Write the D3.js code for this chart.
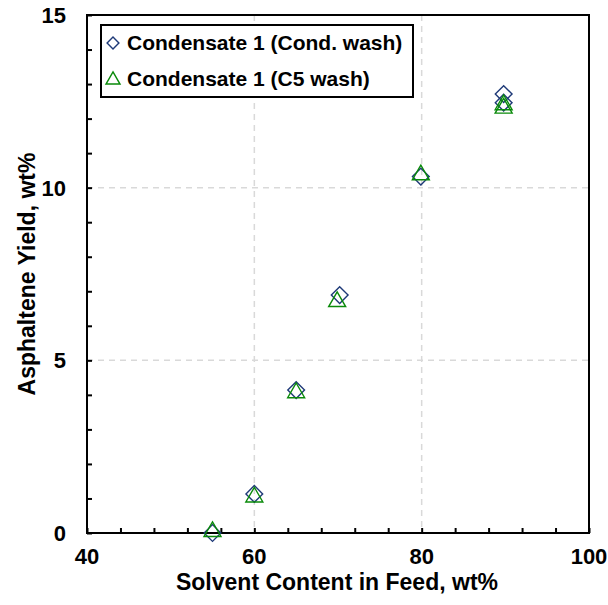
<!DOCTYPE html>
<html>
<head>
<meta charset="utf-8">
<script src="https://cdn.jsdelivr.net/npm/d3@7/dist/d3.min.js"></script>
<style>
  html, body { margin: 0; padding: 0; background: #fff; }
  svg { display: block; font-family: "Liberation Sans", Arial, sans-serif; font-weight: bold; }
</style>
</head>
<body>
<svg id="chart" width="608" height="605"></svg>
<script>
// Solvent content (wt%) and asphaltene yield (wt%) for each wash
const condWashX = [55, 60, 65, 70.2, 79.9, 89.8, 89.8];
const condWashY = [0.0, 1.13, 4.14, 6.89, 10.32, 12.71, 12.46];
const c5WashX = [55, 60, 65, 69.9, 79.9, 89.8, 89.8];
const c5WashY = [0.04, 1.04, 4.06, 6.70, 10.37, 12.40, 12.30];

const seriesNames = ["Condensate 1 (Cond. wash)", "Condensate 1 (C5 wash)"];
const xTickValues = [40, 60, 80, 100];
const yTickValues = [0, 5, 10, 15];
const xMinorTicks = d3.range(40, 100.01, 4);
const yMinorTicks = d3.range(0, 15.01, 1);

const svg = d3.select("#chart");
const m = { left: 87, right: 589, top: 15, bottom: 533 };

const x = d3.scaleLinear().domain([40, 100]).range([m.left, m.right]);
const y = d3.scaleLinear().domain([0, 15]).range([m.bottom, m.top]);

// dashed gridlines at the major ticks
const grid = svg.append("g");
grid.selectAll("line.gx").data([60, 80]).join("line")
  .attr("x1", d => x(d)).attr("x2", d => x(d))
  .attr("y1", m.top).attr("y2", m.bottom)
  .attr("stroke", "#d9d9d9").attr("stroke-width", 1.5).attr("stroke-dasharray", "6,5");
grid.selectAll("line.gy").data([5, 10]).join("line")
  .attr("x1", m.left).attr("x2", m.right)
  .attr("y1", d => y(d)).attr("y2", d => y(d))
  .attr("stroke", "#d9d9d9").attr("stroke-width", 1.5).attr("stroke-dasharray", "6,5");

// inward tick marks
const xAxis = d3.axisBottom(x).tickValues(xMinorTicks).tickSize(-5).tickFormat("");
svg.append("g").attr("transform", `translate(0,${m.bottom})`).call(xAxis)
  .call(g => g.select(".domain").remove())
  .selectAll("line").attr("stroke", "#000").attr("stroke-width", 2);
const yAxis = d3.axisLeft(y).tickValues(yMinorTicks).tickSize(-5).tickFormat("");
svg.append("g").attr("transform", `translate(${m.left},0)`).call(yAxis)
  .call(g => g.select(".domain").remove())
  .selectAll("line").attr("stroke", "#000").attr("stroke-width", 2);

// tick labels
svg.append("g").selectAll("text").data(xTickValues).join("text")
  .attr("x", d => x(d)).attr("y", 564)
  .attr("text-anchor", "middle").attr("font-size", 22).attr("fill", "#000")
  .text(d => d);
svg.append("g").selectAll("text").data(yTickValues).join("text")
  .attr("x", 66).attr("y", d => y(d) + 8)
  .attr("text-anchor", "end").attr("font-size", 22).attr("fill", "#000")
  .text(d => d);

// frame
svg.append("rect")
  .attr("x", m.left).attr("y", m.top)
  .attr("width", m.right - m.left).attr("height", m.bottom - m.top)
  .attr("fill", "none").attr("stroke", "#000").attr("stroke-width", 2);

// axis titles
svg.append("text").attr("x", 337).attr("y", 590)
  .attr("text-anchor", "middle").attr("font-size", 23).attr("fill", "#000")
  .text("Solvent Content in Feed, wt%");
svg.append("text")
  .attr("transform", `translate(35,${(m.top + m.bottom) / 2}) rotate(-90)`)
  .attr("text-anchor", "middle").attr("font-size", 23).attr("fill", "#000")
  .text("Asphaltene Yield, wt%");

const diamond = d3.symbol().type(d3.symbolSquare).size(140);
const triangle = d3.symbol().type(d3.symbolTriangle).size(125);
const navy = "#1f3a78", green = "#0a8a0a";

// data markers
const cond = condWashX.map((v, i) => ({ x: v, y: condWashY[i] }));
const c5 = c5WashX.map((v, i) => ({ x: v, y: c5WashY[i] }));

svg.append("g").selectAll("path").data(cond).join("path")
  .attr("d", diamond)
  .attr("transform", d => `translate(${x(d.x)},${y(d.y)}) rotate(45)`)
  .attr("fill", "none").attr("stroke", navy).attr("stroke-width", 1.4);
svg.append("g").selectAll("path").data(c5).join("path")
  .attr("d", triangle)
  .attr("transform", d => `translate(${x(d.x)},${y(d.y)})`)
  .attr("fill", "none").attr("stroke", green).attr("stroke-width", 1.4);

// legend
const lg = svg.append("g");
lg.append("rect").attr("x", 101).attr("y", 25).attr("width", 312).attr("height", 72)
  .attr("fill", "#fff").attr("stroke", "#000").attr("stroke-width", 2);
lg.append("path").attr("d", d3.symbol().type(d3.symbolSquare).size(70))
  .attr("transform", "translate(113,43) rotate(45)")
  .attr("fill", "none").attr("stroke", navy).attr("stroke-width", 1.4);
lg.append("path").attr("d", d3.symbol().type(d3.symbolTriangle).size(85))
  .attr("transform", "translate(113,80)")
  .attr("fill", "none").attr("stroke", green).attr("stroke-width", 1.4);
lg.selectAll("text").data(seriesNames).join("text")
  .attr("x", 127).attr("y", (d, i) => 50 + i * 36)
  .attr("font-size", 21).attr("fill", "#000")
  .text(d => d);
</script>
</body>
</html>
